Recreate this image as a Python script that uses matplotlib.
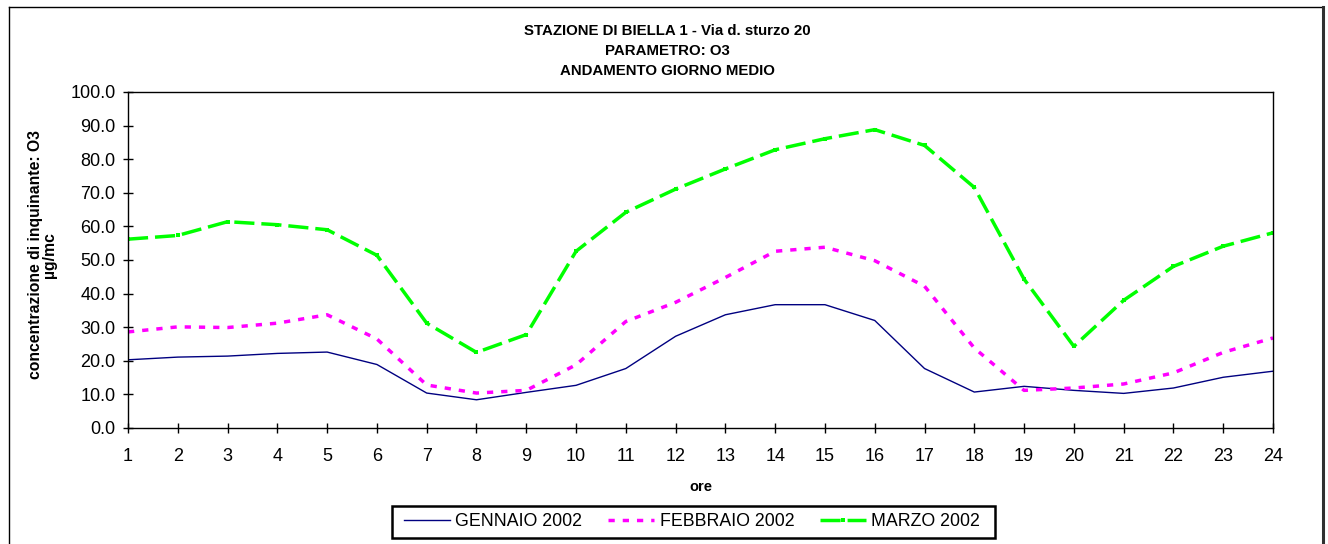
import matplotlib
matplotlib.use("Agg")
import matplotlib.pyplot as plt
from matplotlib.patches import Rectangle
from matplotlib.lines import Line2D

plt.rcParams['font.family'] = ['Liberation Sans', 'DejaVu Sans']

hours = list(range(1, 25))
gennaio = [20.3, 21.1, 21.4, 22.2, 22.6, 18.9, 10.4, 8.4, 10.6, 12.7, 17.7, 27.3,
           33.7, 36.7, 36.7, 32.0, 17.7, 10.7, 12.4, 11.2, 10.3, 11.9, 15.1, 16.9]
febbraio = [28.6, 30.1, 29.9, 31.2, 33.7, 26.5, 12.8, 10.4, 11.2, 18.8, 31.7, 37.4,
            44.8, 52.6, 53.8, 49.8, 42.2, 23.8, 11.2, 11.9, 13.1, 16.4, 22.5, 26.8]
marzo = [56.2, 57.3, 61.4, 60.5, 59.0, 51.4, 31.2, 22.5, 27.8, 52.6, 64.2, 71.1,
         77.1, 82.8, 86.1, 88.8, 84.1, 71.6, 44.3, 24.3, 38.0, 48.1, 54.1, 58.1]
series_names = ["GENNAIO 2002", "FEBBRAIO 2002", "MARZO 2002"]
title_lines = ["STAZIONE DI BIELLA 1 - Via d. sturzo 20", "PARAMETRO: O3", "ANDAMENTO GIORNO MEDIO"]
y_label = "concentrazione di inquinante: O3\nµg/mc"
x_label = "ore"

W, H = 1328, 544
fig = plt.figure(figsize=(W / 100, H / 100), dpi=100)
ax = fig.add_axes([128 / W, 1 - 428 / H, (1273 - 128) / W, (428 - 92) / H])

ax.plot(hours, gennaio, color='#000080', lw=1.0, label=series_names[0])
ax.plot(hours, febbraio, color='#FF00FF', lw=2.5, dashes=(1.8, 2.3),
        dash_capstyle='butt', label=series_names[1])
ax.plot(hours, marzo, color='#00FF00', lw=2.5, dashes=(5.8, 2.0),
        dash_capstyle='butt', marker='s', markersize=3.5, markeredgewidth=0,
        label=series_names[2])

ax.set_xlim(1, 24)
ax.set_ylim(0, 100)
ax.set_xticks(hours)
ax.set_xticklabels([str(h) for h in hours])
ax.set_yticks(range(0, 101, 10))
ax.set_yticklabels([f"{v:.1f}" for v in range(0, 101, 10)])
ax.tick_params(axis='both', direction='inout', length=7, width=1, labelsize=13, colors='black')
ax.tick_params(axis='x', pad=11)
ax.tick_params(axis='y', pad=5.5)
for s in ax.spines.values():
    s.set_linewidth(1.0)
    s.set_color('black')

ax.set_xlabel(x_label, fontsize=10.5, fontweight='bold', labelpad=11)
ax.set_ylabel(y_label, fontsize=11.3, fontweight='bold', linespacing=0.95)
ax.yaxis.set_label_coords((57 - 128) / (1273 - 128), 0.515)

ys = [31, 51, 71]
for t, y in zip(title_lines, ys):
    fig.text(667 / W, 1 - y / H, t, ha='center', va='center', fontsize=10.8, fontweight='bold')

handles, labels = ax.get_legend_handles_labels()
leg = fig.legend(handles, labels, loc='center', bbox_to_anchor=(692 / W, 1 - 522 / H),
                 ncol=3, frameon=False, fontsize=12.8, handlelength=2.6,
                 handletextpad=0.3, columnspacing=1.45, numpoints=1)

# legend box
fig.patches.append(Rectangle((392 / W, 1 - 538 / H), (995 - 392) / W, (538 - 506) / H,
                             transform=fig.transFigure, fill=False, edgecolor='black', lw=1.8))
# outer chart frame
fig.lines.append(Line2D([9 / W, 9 / W], [0, 1 - 7 / H], transform=fig.transFigure, color='black', lw=1.0))
fig.lines.append(Line2D([9 / W, 1323 / W], [1 - 7 / H, 1 - 7 / H], transform=fig.transFigure, color='black', lw=1.0))
fig.lines.append(Line2D([1323 / W, 1323 / W], [0, 1 - 7 / H], transform=fig.transFigure, color='#303030', lw=2.2))

fig.savefig("out.png", dpi=100)
